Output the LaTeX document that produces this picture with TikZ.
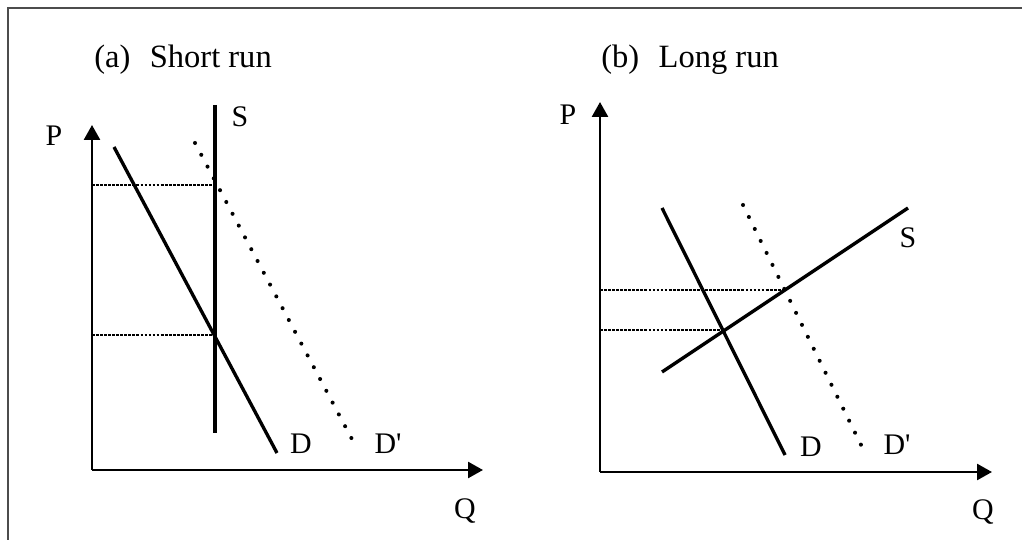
\documentclass[tikz,border=0pt]{standalone}
\usepackage{fontspec}
\setmainfont{Liberation Serif}
\usetikzlibrary{arrows.meta}

\begin{document}
\begin{tikzpicture}[
  axis/.style={line width=1.5pt,-{Triangle[length=0.3cm,width=0.32cm]}},
  curve/.style={line width=1.9pt},
  guide/.style={line width=1.1pt,dash pattern=on 1.6pt off 0.7pt},
  shifted/.style={line width=2.3pt,line cap=round,dash pattern=on 0pt off 7.6pt},
  lbl/.style={font=\fontsize{17}{20}\selectfont,inner sep=0pt},
  title/.style={font=\fontsize{18.5}{22}\selectfont,inner sep=0pt,anchor=base}
]
\useasboundingbox (0,0) rectangle (20.44,10.8);

% Cadre
\draw[line width=0.8pt,gray!60!black] (0.16,0) -- (0.16,10.64) -- (20.44,10.64);

% (a) Court terme
\node[title] (titleA) at (3.66,9.44) {(a)\hspace{0.6em}Short run};
\coordinate (oA) at (1.84,1.40);
\coordinate (pA) at (1.84,8.30);
\coordinate (qA) at (9.66,1.40);
\draw[axis] (oA) -- (pA);
\draw[axis] (oA) -- (qA);
\node[lbl] (labPA) at (1.08,8.08) {P};
\node[lbl] (labQA) at (9.30,0.58) {Q};

% Offre fixe
\draw[curve] (4.30,8.70) -- (4.30,2.14);
\node[lbl] (labSA) at (4.80,8.46) {S};

% Demande et demande déplacée
\draw[curve] (2.28,7.86) -- (5.54,1.74);
\node[lbl] (labDA) at (6.02,1.92) {D};
\draw[shifted] (3.90,7.94) -- (7.08,1.94);
\node[lbl] (labDpA) at (7.76,1.92) {D\textquotesingle};

% Prix d'équilibre
\draw[guide] (1.84,7.10) -- (4.30,7.10);
\draw[guide] (1.84,4.10) -- (4.30,4.10);

% (b) Long terme
\node[title] (titleB) at (13.80,9.44) {(b)\hspace{0.6em}Long run};
\coordinate (oB) at (12.00,1.36);
\coordinate (pB) at (12.00,8.76);
\coordinate (qB) at (19.84,1.36);
\draw[axis] (oB) -- (pB);
\draw[axis] (oB) -- (qB);
\node[lbl] (labPB) at (11.36,8.50) {P};
\node[lbl] (labQB) at (19.66,0.56) {Q};

% Offre croissante
\draw[curve] (13.24,3.36) -- (18.16,6.64);
\node[lbl] (labSB) at (18.16,6.04) {S};

% Demande et demande déplacée
\draw[curve] (13.24,6.64) -- (15.70,1.70);
\node[lbl] (labDB) at (16.22,1.86) {D};
\draw[shifted] (14.86,6.70) -- (17.32,1.70);
\node[lbl] (labDpB) at (17.94,1.90) {D\textquotesingle};

% Prix d'équilibre
\draw[guide] (12.00,5.00) -- (15.70,5.00);
\draw[guide] (12.00,4.20) -- (14.46,4.20);

\end{tikzpicture}
\end{document}
